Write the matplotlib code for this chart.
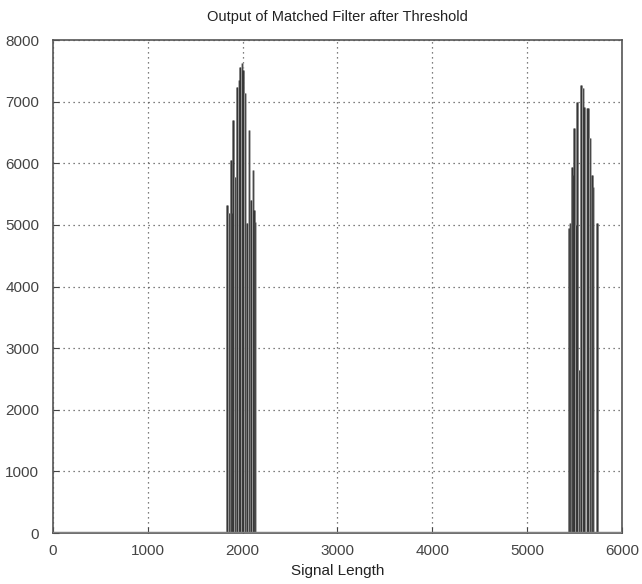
import matplotlib
matplotlib.use("Agg")
import matplotlib.pyplot as plt

plt.rcParams["font.family"] = ["Liberation Sans", "DejaVu Sans"]

# first detected pulse
pulse1_x = [1832, 1860, 1874, 1888, 1902, 1923, 1937, 1958, 1973, 1994,
            2008, 2029, 2043, 2064, 2086, 2107, 2120, 2134]
pulse1_y = [5320, 5190, 6050, 5190, 6700, 5780, 7240, 7350, 7560, 7630,
            7510, 7140, 5030, 6540, 5400, 5890, 5240, 5050]

# second detected pulse
pulse2_x = [5440, 5454, 5471, 5482, 5499, 5517, 5524, 5552, 5566, 5587,
            5601, 5630, 5647, 5665, 5682, 5693, 5742]
pulse2_y = [4950, 5030, 5940, 5810, 6570, 5000, 7000, 2650, 7270, 7220,
            6920, 6900, 6900, 6410, 5810, 5620, 5030]

x_ticks = [0, 1000, 2000, 3000, 4000, 5000, 6000]
y_ticks = [0, 1000, 2000, 3000, 4000, 5000, 6000, 7000, 8000]

fig = plt.figure(figsize=(6.42, 5.84), dpi=100)
ax = fig.add_axes([0.0826, 0.0873, 0.886, 0.8442])

for xs, ys in [(pulse1_x, pulse1_y), (pulse2_x, pulse2_y)]:
    for i, (x, y) in enumerate(zip(xs, ys)):
        c = "#5c5c5c" if i % 2 == 0 else "#9c9c9c"
        ax.vlines(x, 0, y, colors=c, linewidth=1.8, zorder=3)
    ax.vlines(xs, 0, ys, colors="#262626", linewidth=0.5, zorder=4)

ax.axhline(0, color="#808080", linewidth=2.5, zorder=5)

ax.set_xlim(0, 6000)
ax.set_ylim(0, 8000)
ax.set_xticks(x_ticks)
ax.set_yticks(y_ticks)
ax.grid(True, linestyle=(0, (1, 3)), color="#555555", linewidth=0.9)
ax.set_axisbelow(True)
ax.tick_params(direction="in", length=4, pad=8, labelsize=11, colors="#444444")
ax.tick_params(axis="y", pad=10)
for sp in ax.spines.values():
    sp.set_color("#555555")
    sp.set_linewidth(1.2)

ax.set_title("Output of Matched Filter after Threshold", fontsize=10.5, color="#222222", pad=14)
ax.set_xlabel("Signal Length", fontsize=11, color="#222222", labelpad=4)

plt.savefig("out.png", dpi=100)
